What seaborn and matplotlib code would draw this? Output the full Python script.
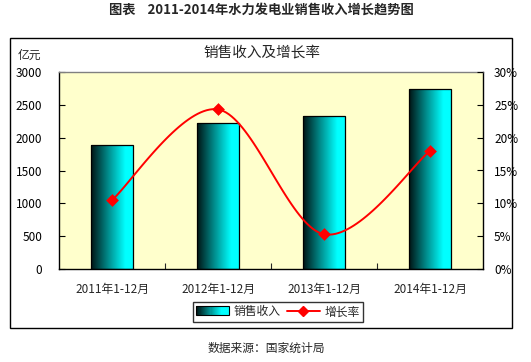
import matplotlib
matplotlib.use("Agg")
import matplotlib.pyplot as plt
import numpy as np
import seaborn as sns
from matplotlib.colors import LinearSegmentedColormap, to_hex
from matplotlib.legend_handler import HandlerBase
from matplotlib.lines import Line2D
from matplotlib.patches import Rectangle
from matplotlib.ticker import FuncFormatter, MultipleLocator

# 数据
categories = ["2011年1-12月", "2012年1-12月", "2013年1-12月", "2014年1-12月"]
sales = [1890, 2225, 2330, 2740]          # 亿元
growth = [0.105, 0.243, 0.053, 0.180]     # 增长率

sns.set_style("white")
plt.rcParams["font.family"] = ["Noto Sans CJK SC", "DejaVu Sans"]

W, H = 531, 362
fig = plt.figure(figsize=(W / 100, H / 100), dpi=100)


def px(x0, y0, x1, y1):
    return [x0 / W, 1 - y1 / H, (x1 - x0) / W, (y1 - y0) / H]


# 外框
fig.patches.append(Rectangle((10 / W, 1 - 328 / H), 502 / W, 290 / H,
                             transform=fig.transFigure, fill=False,
                             edgecolor="black", linewidth=1))

ax = fig.add_axes(px(59, 72, 483, 269))
ax.set_facecolor("#FFFFCC")

grad = LinearSegmentedColormap.from_list(
    "bar", [(0, "#001414"), (0.45, "#009a9a"), (0.8, "#00ffff"), (1, "#00ffff")])

sns.barplot(x=categories, y=sales, ax=ax, width=0.4, color="#00cccc",
            edgecolor="black", linewidth=0.9, zorder=2)
for p in ax.patches:
    x0, w, h = p.get_x(), p.get_width(), p.get_height()
    im = ax.imshow(np.linspace(0, 1, 256)[None, :], cmap=grad, aspect="auto",
                   extent=[x0, x0 + w, 0, h], zorder=2.5)
    im.set_clip_path(p)
    p.set_facecolor("none")
    p.set_zorder(3)

ax.set_xlim(-0.5, 3.5)
ax.set_ylim(0, 3000)
ax.yaxis.set_major_locator(MultipleLocator(500))
ax.set_xlabel("")
ax.set_ylabel("")
ax.tick_params(axis="y", direction="in", length=4, width=0.8, left=True,
               labelsize=8.5, pad=12, colors="black")
ax.tick_params(axis="x", which="major", length=0, labelsize=8.5, pad=10)
ax.set_xticks([0.5, 1.5, 2.5], minor=True)
ax.tick_params(axis="x", which="minor", direction="in", length=4, width=0.8,
               bottom=True)
for s in ["left", "bottom", "right"]:
    ax.spines[s].set_color("black")
    ax.spines[s].set_linewidth(1)
ax.spines["top"].set_color("#808080")
ax.spines["top"].set_linewidth(1)

# 增长率（平滑曲线）
ax2 = ax.twinx()
pos = np.arange(len(growth), dtype=float)
g = np.array(growth)
P = np.column_stack([pos, g])
Pext = np.vstack([P[0], P, P[-1]])
curve = []
for i in range(len(P) - 1):
    p0, p1, p2, p3 = Pext[i], Pext[i + 1], Pext[i + 2], Pext[i + 3]
    t = np.linspace(0, 1, 40)[:, None]
    seg = 0.5 * ((2 * p1) + (-p0 + p2) * t + (2 * p0 - 5 * p1 + 4 * p2 - p3) * t ** 2
                 + (-p0 + 3 * p1 - 3 * p2 + p3) * t ** 3)
    curve.append(seg)
curve = np.vstack(curve)
sns.lineplot(x=curve[:, 0], y=curve[:, 1], ax=ax2, color="red", linewidth=1.4,
             sort=False, estimator=None, zorder=4)
sns.scatterplot(x=pos, y=g, ax=ax2, marker="D", color="red", s=36,
                edgecolor="red", zorder=5)
ax2.set_ylim(0, 0.3)
ax2.yaxis.set_major_locator(MultipleLocator(0.05))
ax2.yaxis.set_major_formatter(FuncFormatter(lambda v, _: f"{v * 100:.0f}%"))
ax2.tick_params(axis="y", direction="in", length=4, width=0.8, right=True,
                labelsize=8.5, pad=8, colors="black")
ax2.set_ylabel("")
for s in ax2.spines.values():
    s.set_visible(False)
ax.set_xlim(-0.5, 3.5)

# 文本
fig.text(261 / W, 1 - 10 / H, "图表    2011-2014年水力发电业销售收入增长趋势图",
         ha="center", va="center", fontsize=9.5, fontweight="bold")
fig.text(262 / W, 1 - 52 / H, "销售收入及增长率", ha="center", va="center",
         fontsize=10.5)
fig.text(18 / W, 1 - 55 / H, "亿元", ha="left", va="center", fontsize=8.5)
fig.text(266 / W, 1 - 348 / H, "数据来源：国家统计局", ha="center", va="center",
         fontsize=8.5)


# 图例
class GradHandler(HandlerBase):
    def create_artists(self, legend, orig, xd, yd, width, height, fontsize, trans):
        arts = []
        n = 30
        for k in range(n):
            arts.append(Rectangle((xd + width * k / n, yd), width / n + 0.2, height,
                                  facecolor=to_hex(grad(k / (n - 1))),
                                  edgecolor="none", transform=trans))
        arts.append(Rectangle((xd, yd), width, height, fill=False,
                              edgecolor="black", linewidth=0.8, transform=trans))
        return arts


bar_h = Rectangle((0, 0), 1, 1)
line_h = Line2D([], [], color="red", linewidth=1.4, marker="D", markersize=5)
leg = fig.legend([bar_h, line_h], ["销售收入", "增长率"],
                 handler_map={Rectangle: GradHandler()},
                 loc="center", bbox_to_anchor=(278 / W, 1 - 312 / H), ncol=2,
                 fontsize=8.5, frameon=True, fancybox=False, borderpad=0.3,
                 handlelength=2.8, handletextpad=0.4, columnspacing=0.5,
                 handleheight=0.8)
leg.get_frame().set_edgecolor("black")
leg.get_frame().set_linewidth(1)

fig.savefig("out.png", dpi=100)
